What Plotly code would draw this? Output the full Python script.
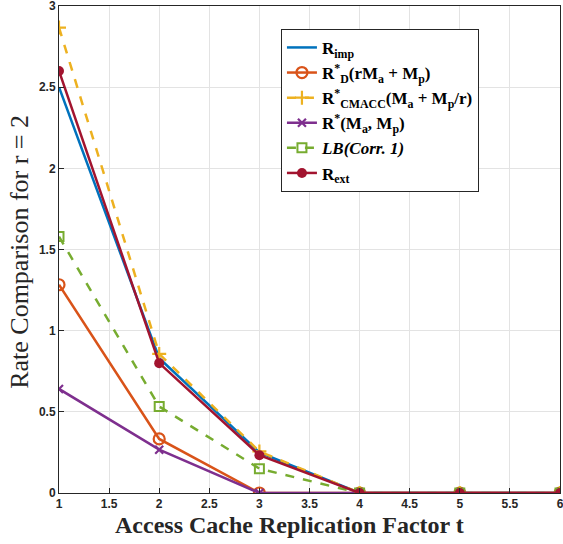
import plotly.graph_objects as go

t = [1, 2, 3, 4, 5, 6]
r_imp = [2.5, 0.83, 0.25, 0, 0, 0]
r_d = [1.283, 0.333, 0, 0, 0, 0]
r_cmacc = [2.867, 0.857, 0.256, 0, 0, 0]
r_star = [0.641, 0.267, 0, 0, 0, 0]
lb = [1.58, 0.533, 0.15, 0, 0, 0]
r_ext = [2.6, 0.8, 0.233, 0, 0, 0]

names = [
    "<b>R<sub>imp</sub></b>",
    "<b>R<sup>*</sup><sub>D</sub>(rM<sub>a</sub> + M<sub>p</sub>)</b>",
    "<b>R<sup>*</sup><sub>CMACC</sub>(M<sub>a</sub> + M<sub>p</sub>/r)</b>",
    "<b>R<sup>*</sup>(M<sub>a</sub>, M<sub>p</sub>)</b>",
    "<b><i>LB(Corr. 1)</i></b>",
    "<b>R<sub>ext</sub></b>",
]
x_title = "<b>Access Cache Replication Factor t</b>"
y_title = "Rate Comparison for r = 2"

fig = go.Figure()
fig.add_trace(go.Scatter(x=t, y=r_imp, name=names[0], mode="lines",
                         line=dict(color="#0072BD", width=2.5)))
fig.add_trace(go.Scatter(x=t, y=r_d, name=names[1], mode="lines+markers",
                         line=dict(color="#D95319", width=2.5),
                         marker=dict(symbol="circle-open", size=11, color="#D95319",
                                     line=dict(width=2.2, color="#D95319"))))
fig.add_trace(go.Scatter(x=t, y=r_cmacc, name=names[2], mode="lines+markers",
                         line=dict(color="#EDB120", width=2.5, dash="dash"),
                         marker=dict(symbol="cross-thin-open", size=10,
                                     line=dict(width=2.2, color="#EDB120"))))
fig.add_trace(go.Scatter(x=t, y=r_star, name=names[3], mode="lines+markers",
                         line=dict(color="#7E2F8E", width=2.5),
                         marker=dict(symbol="x-thin-open", size=8,
                                     line=dict(width=2.2, color="#7E2F8E"))))
fig.add_trace(go.Scatter(x=t, y=lb, name=names[4], mode="lines+markers",
                         line=dict(color="#77AC30", width=2.5, dash="dash"),
                         marker=dict(symbol="square-open", size=9, color="#77AC30",
                                     line=dict(width=2, color="#77AC30"))))
fig.add_trace(go.Scatter(x=t, y=r_ext, name=names[5], mode="lines+markers",
                         line=dict(color="#A2142F", width=2.5),
                         marker=dict(symbol="circle", size=10, color="#A2142F")))

axis_common = dict(
    showgrid=True, gridcolor="#E3E3E3", gridwidth=1,
    showline=True, linecolor="#262626", linewidth=1, mirror=True,
    ticks="inside", ticklen=5, tickcolor="#262626",
    tickfont=dict(family="Liberation Sans, Arial", size=12, color="#262626", weight="bold"),
    zeroline=False, automargin=False, ticklabeloverflow="allow",
)

fig.update_layout(
    width=563, height=544,
    margin=dict(l=59, r=3, t=6, b=51),
    plot_bgcolor="white", paper_bgcolor="white",
    xaxis=dict(range=[1, 6], dtick=0.5, tickformat="~g", **axis_common),
    yaxis=dict(range=[0, 3], dtick=0.5, tickformat="~g", **axis_common),
    legend=dict(x=0.443, y=0.953, xanchor="left", yanchor="top",
                bgcolor="white", bordercolor="#262626", borderwidth=1,
                font=dict(family="Liberation Serif, DejaVu Serif, serif", size=17, color="black"),
                itemwidth=30, tracegroupgap=0),
    showlegend=True,
    annotations=[
        dict(text=x_title, xref="paper", yref="paper", x=0.461, y=-0.066,
             xanchor="center", yanchor="middle", showarrow=False,
             font=dict(family="Liberation Serif, DejaVu Serif, serif", size=24, color="#262626")),
        dict(text=y_title, xref="paper", yref="paper", x=-0.078, y=0.495,
             xanchor="center", yanchor="middle", showarrow=False, textangle=-90,
             font=dict(family="Liberation Serif, DejaVu Serif, serif", size=26, color="#262626")),
    ],
)

fig.write_html("out.html", config={"displayModeBar": False},
               post_script="document.body.style.margin='0';")
